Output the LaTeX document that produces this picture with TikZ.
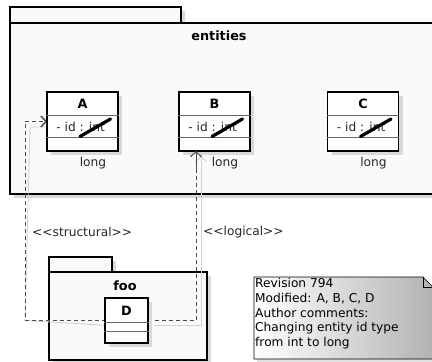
\documentclass[tikz,border=0pt]{standalone}
\usepackage{fontspec}
\setmainfont{DejaVu Sans}
\usetikzlibrary{arrows.meta,shadows}

\begin{document}
\begin{tikzpicture}[x=1pt,y=-1pt,>={Straight Barb[length=5pt,width=11pt]},font=\fontsize{12.2}{14.8}\selectfont]
		\tikzstyle{shade}=[drop shadow={shadow xshift=4pt,shadow yshift=-4pt,fill=black!15,opacity=1}]
		\tikzstyle{pkg}=[rectangle, draw=black, line width=1.6pt, fill=black!2, inner sep=0pt, shade]
		\tikzstyle{cls}=[rectangle, draw=black, line width=1.6pt, fill=white, inner sep=0pt, shade]
		\tikzstyle{sep}=[draw=black!60, line width=0.7pt]
		\tikzstyle{strike}=[line width=3.2pt, line cap=round]
		\tikzstyle{dep}=[draw=black!70, line width=0.9pt, dash pattern=on 4pt off 3pt]
		\tikzstyle{depshadow}=[draw=black!18, line width=0.9pt, xshift=5pt, yshift=-5pt]
		\tikzstyle{bold}=[font=\fontsize{12.8}{14}\selectfont\bfseries, inner sep=0pt]
		\tikzstyle{txt}=[inner sep=0pt, text=black!85]

		\useasboundingbox (0,0) rectangle (432,362);
		\clip (0,0) rectangle (432,362);

		% packages
		\node [pkg, minimum width=171pt, minimum height=16pt, anchor=north west] (entitiestab) at (9,6) {};
		\node [pkg, minimum width=436pt, minimum height=171pt, anchor=north west] (entities) at (9,22) {};
		\node [bold] (entitieslabel) at (219,36) {entities};

		\node [pkg, minimum width=63pt, minimum height=15pt, anchor=north west] (footab) at (48,256) {};
		\node [pkg, minimum width=158pt, minimum height=88pt, anchor=north west] (foo) at (48,271) {};
		\node [bold] (foolabel) at (125,286) {foo};

		% dependencies
		\coordinate (sbend) at (25,320.5);
		\draw [depshadow,->] (sbend) -- (25,122) -- (47,122);
		\draw [depshadow] (104,320.5) -- (sbend);
		\draw [depshadow,->] (149,320.5) -- (196,320.5) -- (196,151);
		\draw [dep,->] (126.5,320.5) -- (sbend) |- (47,121.5);
		\draw [dep,->] (126.5,320.5) -| (196,151);
		\node [txt, anchor=west] (structural) at (32,232) {<\kern0pt<structural>\kern0pt>};
		\node [txt, anchor=west] (logical) at (203,232) {<\kern0pt<logical>\kern0pt>};

		% classes
		\foreach \n/\x in {A/82.5,B/214.5,C/363} {
			\node [cls, minimum width=71pt, minimum height=59pt] (\n) at (\x,121.5) {};
			\draw [sep] ([yshift=-24pt]\n.north west) -- ([yshift=-24pt]\n.north east);
			\draw [sep] ([yshift=-46pt]\n.north west) -- ([yshift=-46pt]\n.north east);
			\node [bold] (\n name) at (\x,104) {\n};
			\node [txt, anchor=west] (\n id) at ([xshift=10pt]\n.west |- 0,127) {- id : int};
			\draw [strike] (\x-2.5,136.5) -- (\x+28,119);
			\node [txt] (\n long) at (\x+10.5,163) {long};
		}

		\node [cls, minimum width=43pt, minimum height=45pt] (D) at (126.5,320.5) {};
		\draw [sep] ([yshift=-25pt]D.north west) -- ([yshift=-25pt]D.north east);
		\draw [sep] ([yshift=-34pt]D.north west) -- ([yshift=-34pt]D.north east);
		\node [bold] (Dname) at (126.5,311) {D};

		% redraw arrows that end on the class boxes
		\draw [dep,->] (25,121.5) -- (A.west);
		\draw [dep,->] (196,170) -- (196,151);

		% note
		\draw [draw=black, line width=0.7pt, left color=white, right color=black!30, drop shadow={shadow xshift=3pt,shadow yshift=-3pt,fill=black!12,opacity=1}]
			(254,277) -- (423,277) -- (433,287) -- (433,359) -- (254,359) -- cycle;
		\draw [line width=0.7pt] (423,277) -- (423,287) -- (433,287);
		\node [txt, anchor=north west, align=left, text=black] (note) at (255,278)
			{Revision 794\\Modified: A, B, C, D\\Author comments:\\Changing entity id type\\from int to long};
	\end{tikzpicture}
\end{document}
